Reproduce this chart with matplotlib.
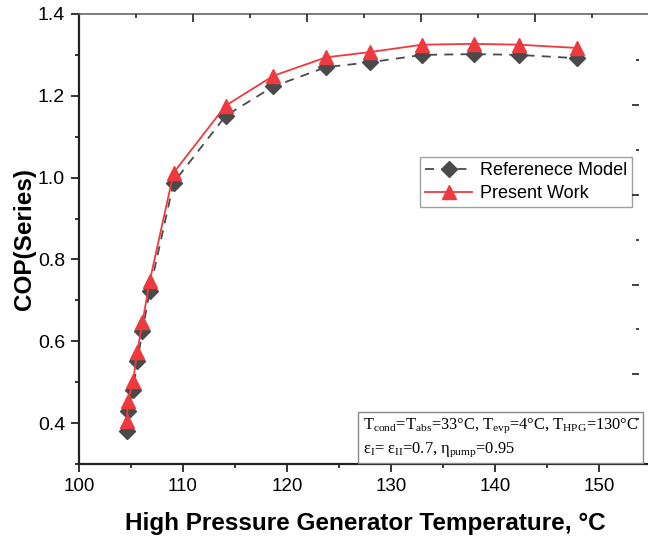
import numpy as np
import matplotlib
matplotlib.use("Agg")
from matplotlib import pyplot as plt
from matplotlib.ticker import MultipleLocator, FixedLocator

# data
temp_hpg = [104.6, 104.7, 105.2, 105.6, 106.1, 106.8, 109.1, 114.1, 118.7,
            123.75, 128.0, 133.0, 138.0, 142.3, 147.85]
cop_reference = [0.381, 0.430, 0.481, 0.551, 0.624, 0.724, 0.988, 1.151, 1.223,
                 1.270, 1.282, 1.300, 1.302, 1.300, 1.292]
cop_present = [0.404, 0.453, 0.503, 0.574, 0.646, 0.747, 1.012, 1.176, 1.249,
               1.294, 1.307, 1.325, 1.327, 1.325, 1.317]

series_labels = ["Referenece Model", "Present Work"]
note_lines = [r"T$_\mathregular{cond}$=T$_\mathregular{abs}$=33°C, T$_\mathregular{evp}$=4°C, T$_\mathregular{HPG}$=130°C",
              r"ε$_\mathregular{I}$= ε$_\mathregular{II}$=0.7, η$_\mathregular{pump}$=0.95"]

plt.rcParams['font.family'] = ['Liberation Sans', 'DejaVu Sans']
plt.rcParams['mathtext.fontset'] = 'custom'
plt.rcParams['mathtext.rm'] = 'Liberation Serif'

fig = plt.figure(figsize=(6.48, 5.39), dpi=100)
# axes runs slightly past the right edge of the picture, like the reference
ax = fig.add_axes([79/648, 75/539, 572/648, 450/539])

dark = '#4a4a4a'
red = '#ee3a3f'
ax.plot(temp_hpg, cop_reference, color=dark, ls=(0, (5, 4)), lw=1.3,
        marker='D', ms=8, mfc=dark, mec=dark, label=series_labels[0], zorder=3)
ax.plot(temp_hpg, cop_present, color=red, ls='-', lw=1.3,
        marker='^', ms=9.5, mfc=red, mec=red, label=series_labels[1], zorder=4)

ax.set_xlim(100, 155)
ax.set_ylim(0.3, 1.4)
ax.xaxis.set_major_locator(MultipleLocator(10))
ax.xaxis.set_minor_locator(MultipleLocator(5))
ax.set_yticks(np.arange(0.4, 1.41, 0.2))
ax.yaxis.set_minor_locator(MultipleLocator(0.1))
ax.yaxis.set_major_formatter(matplotlib.ticker.FormatStrFormatter('%.1f'))
ax.tick_params(which='both', direction='out', top=False, right=False,
               width=1.3, color='#222222', pad=4)
ax.tick_params(axis='x', labelsize=13.5)
ax.tick_params(axis='y', labelsize=14)
ax.tick_params(which='major', length=6)
ax.tick_params(which='minor', length=3)

for s in ['left', 'bottom']:
    ax.spines[s].set_linewidth(1.6)
    ax.spines[s].set_color('#222222')
ax.spines['top'].set_color('#666666')
ax.spines['top'].set_linewidth(1.2)
ax.spines['right'].set_visible(False)

ax.set_xlabel('High Pressure Generator Temperature, °C', fontsize=17.5,
              fontweight='bold', labelpad=12)
ax.set_ylabel('COP(Series)', fontsize=17.5, fontweight='bold', labelpad=1)

# stray tick marks along the top and right edges of the reference
ax_top = ax.twiny()
ax_top.set_xlim(0, 572/114)
ax_top.xaxis.set_major_locator(FixedLocator([1, 2, 3, 4, 5]))
ax_top.xaxis.set_minor_locator(FixedLocator([0.5, 1.5, 2.5, 3.5, 4.5]))
ax_top.tick_params(which='both', direction='in', labeltop=False, color='#222222', width=1.2)
ax_top.tick_params(which='major', length=6)
ax_top.tick_params(which='minor', length=3)
for s in ax_top.spines.values():
    s.set_visible(False)

ax_right = ax.twinx()
ax_right.set_ylim(0, 450/89.7)
ax_right.yaxis.set_major_locator(FixedLocator([1, 2, 3, 4]))
ax_right.yaxis.set_minor_locator(FixedLocator([0.5, 1.5, 2.5, 3.5, 4.5]))
ax_right.spines['right'].set_position(('axes', (639 - 79) / 572))
ax_right.tick_params(which='both', direction='in', labelright=False, color='#222222', width=1.2)
ax_right.tick_params(which='major', length=5)
ax_right.tick_params(which='minor', length=2)
for s in ax_right.spines.values():
    s.set_visible(False)

leg = ax.legend(loc='upper left', bbox_to_anchor=((420 - 79) / 572, (464 - 157) / 450),
                fontsize=13, frameon=True, fancybox=False, edgecolor='#888888',
                handlelength=2.6, labelspacing=0.3, borderpad=0.3, handletextpad=0.4,
                borderaxespad=0)
leg.get_frame().set_linewidth(1.0)

ax.text((363 - 79) / 572, 0.012, note_lines[0] + '\n' + note_lines[1],
        transform=ax.transAxes, ha='left', va='bottom', fontsize=11.8,
        family='Liberation Serif', linespacing=1.38, zorder=5,
        bbox=dict(boxstyle='square,pad=0.28', fc='white', ec='#888888', lw=1.0))

fig.savefig('out.png', dpi=100)
